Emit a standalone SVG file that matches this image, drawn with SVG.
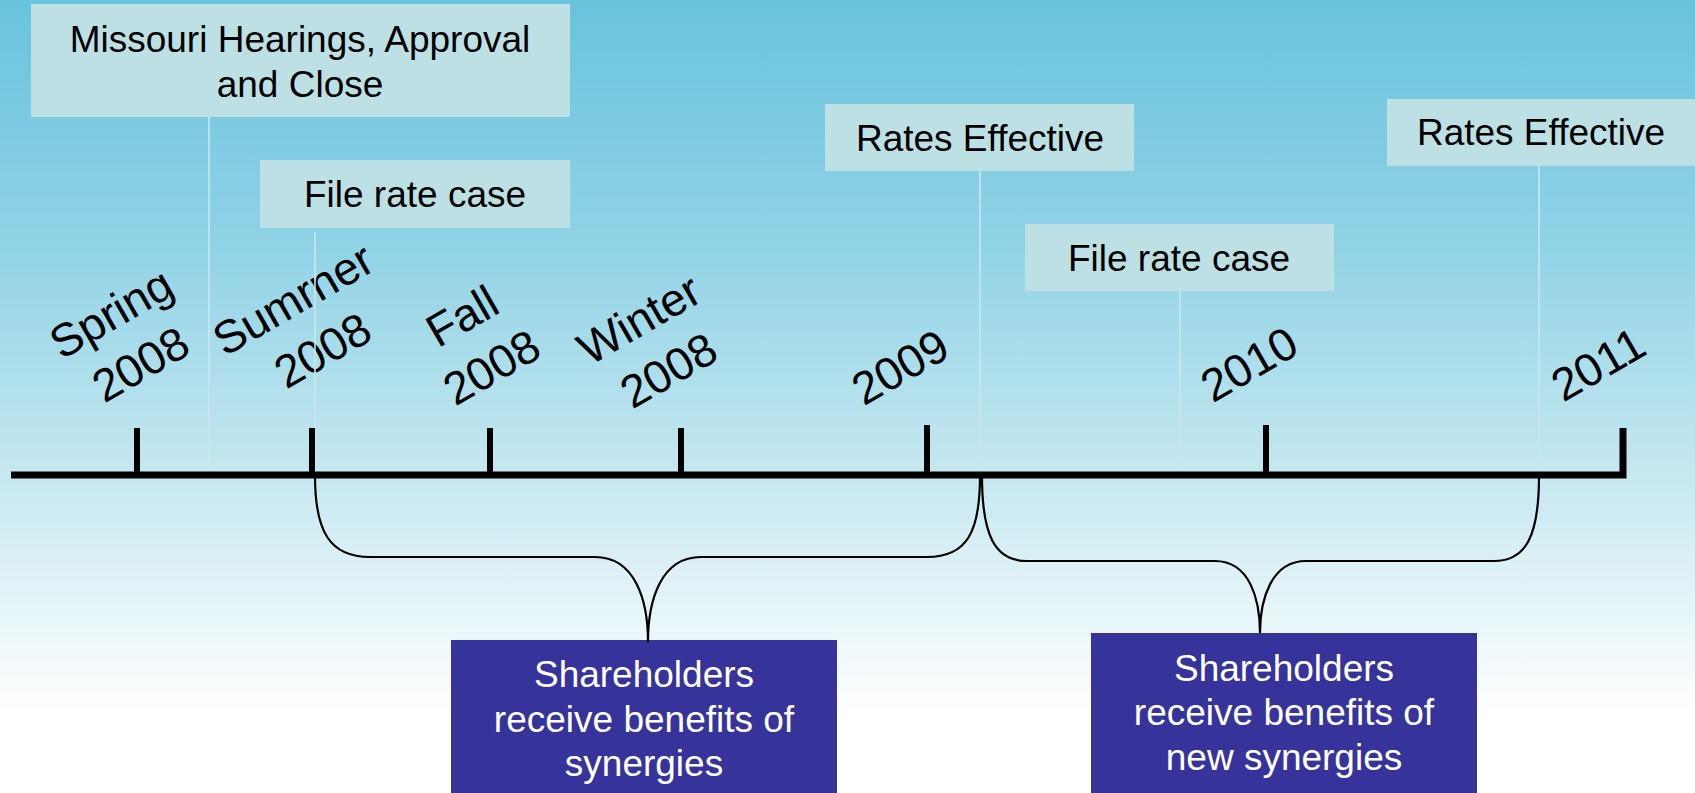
<svg xmlns="http://www.w3.org/2000/svg" width="1695" height="793" viewBox="0 0 1695 793">
  <defs>
    <linearGradient id="sky" x1="0" y1="0" x2="0" y2="1">
      <stop offset="0" stop-color="#69c3dd"/>
      <stop offset="0.3" stop-color="#8fd2e6"/>
      <stop offset="0.6" stop-color="#c6e8f0"/>
      <stop offset="0.9" stop-color="#ffffff"/>
      <stop offset="1" stop-color="#ffffff"/>
    </linearGradient>
    <style>
      .txt { font-family: "Liberation Sans", Arial, sans-serif; text-anchor: middle; }
      .event rect { fill: #bce0e4; }
      .event text { font-size: 37px; fill: #000; }
      .period text { font-size: 46px; fill: #000; }
      .result rect { fill: #36349a; }
      .result text { font-size: 37px; fill: #fff; }
      .leader { stroke: #cbe7ec; stroke-width: 1.6; fill: none; }
      .axis { stroke: #000; stroke-width: 7; fill: none; }
      .tick { stroke: #000; stroke-width: 6; }
      .brace { stroke: #000; stroke-width: 2.2; fill: none; }
    </style>
  </defs>

  <rect x="0" y="0" width="1695" height="793" fill="url(#sky)"/>

  <!-- event callouts -->
  <g id="missouri-close" class="event txt">
    <rect x="31" y="4" width="539" height="113"/>
    <text x="300" y="52">Missouri Hearings, Approval</text>
    <text x="300" y="97">and Close</text>
  </g>
  <g id="file-rate-case-1" class="event txt">
    <rect x="260" y="160" width="310" height="68"/>
    <text x="415" y="207">File rate case</text>
  </g>
  <g id="rates-effective-1" class="event txt">
    <rect x="825" y="104" width="309" height="67"/>
    <text x="980" y="151">Rates Effective</text>
  </g>
  <g id="file-rate-case-2" class="event txt">
    <rect x="1025" y="224" width="309" height="67"/>
    <text x="1179" y="271">File rate case</text>
  </g>
  <g id="rates-effective-2" class="event txt">
    <rect x="1387" y="99" width="308" height="67"/>
    <text x="1541" y="145">Rates Effective</text>
  </g>

  <!-- period labels on the timeline -->
  <g id="spring-2008" class="period txt" transform="translate(119 327) rotate(-30)">
    <text x="0" y="0">Spring</text>
    <text x="0" y="59">2008</text>
  </g>
  <g id="summer-2008" class="period txt" transform="translate(301 313) rotate(-30)">
    <text x="0" y="0">Sumrner</text>
    <text x="0" y="59">2008</text>
  </g>
  <g id="fall-2008" class="period txt" transform="translate(470 330) rotate(-30)">
    <text x="0" y="0">Fall</text>
    <text x="0" y="59">2008</text>
  </g>
  <g id="winter-2008" class="period txt" transform="translate(647 333) rotate(-30)">
    <text x="0" y="0">Winter</text>
    <text x="0" y="59">2008</text>
  </g>
  <g id="y2009" class="period txt" transform="translate(908 381) rotate(-30)">
    <text x="0" y="0">2009</text>
  </g>
  <g id="y2010" class="period txt" transform="translate(1257 378) rotate(-30)">
    <text x="0" y="0">2010</text>
  </g>
  <g id="y2011" class="period txt" transform="translate(1606 378) rotate(-30)">
    <text x="0" y="0">2011</text>
  </g>

  <!-- outcome boxes -->
  <g id="shareholders-synergies" class="result txt">
    <rect x="451" y="640" width="386" height="160"/>
    <text x="644" y="687">Shareholders</text>
    <text x="644" y="732">receive benefits of</text>
    <text x="644" y="776">synergies</text>
  </g>
  <g id="shareholders-new-synergies" class="result txt">
    <rect x="1091" y="633" width="386" height="167"/>
    <text x="1284" y="681">Shareholders</text>
    <text x="1284" y="725">receive benefits of</text>
    <text x="1284" y="770">new synergies</text>
  </g>

  <!-- timeline, leaders and braces -->
  <g id="connectors">
    <line class="leader" x1="209" y1="117" x2="209" y2="467"/>
    <line class="leader" x1="315" y1="232" x2="315" y2="476"/>
    <line class="leader" x1="980" y1="171" x2="980" y2="476"/>
    <line class="leader" x1="1180" y1="291" x2="1180" y2="471"/>
    <line class="leader" x1="1539" y1="166" x2="1539" y2="476"/>

    <polyline class="axis" points="11,475 1623,475 1623,428"/>
    <line class="tick" x1="137" y1="428" x2="137" y2="475"/>
    <line class="tick" x1="312" y1="428" x2="312" y2="475"/>
    <line class="tick" x1="490" y1="428" x2="490" y2="475"/>
    <line class="tick" x1="681" y1="428" x2="681" y2="475"/>
    <line class="tick" x1="927" y1="425" x2="927" y2="475"/>
    <line class="tick" x1="1266" y1="425" x2="1266" y2="475"/>

    <path class="brace" d="M315,476 C315,532 330,557 370,557 L595,557 C635,557 648,600 648,642 C648,600 661,557 701,557 L927,557 C967,557 980,532 980,476"/>
    <path class="brace" d="M982,476 C982,536 995,561 1027,561 L1215,561 C1250,561 1260,600 1260,633 C1260,600 1271,561 1306,561 L1494,561 C1526,561 1539,536 1539,476"/>
  </g>
</svg>
